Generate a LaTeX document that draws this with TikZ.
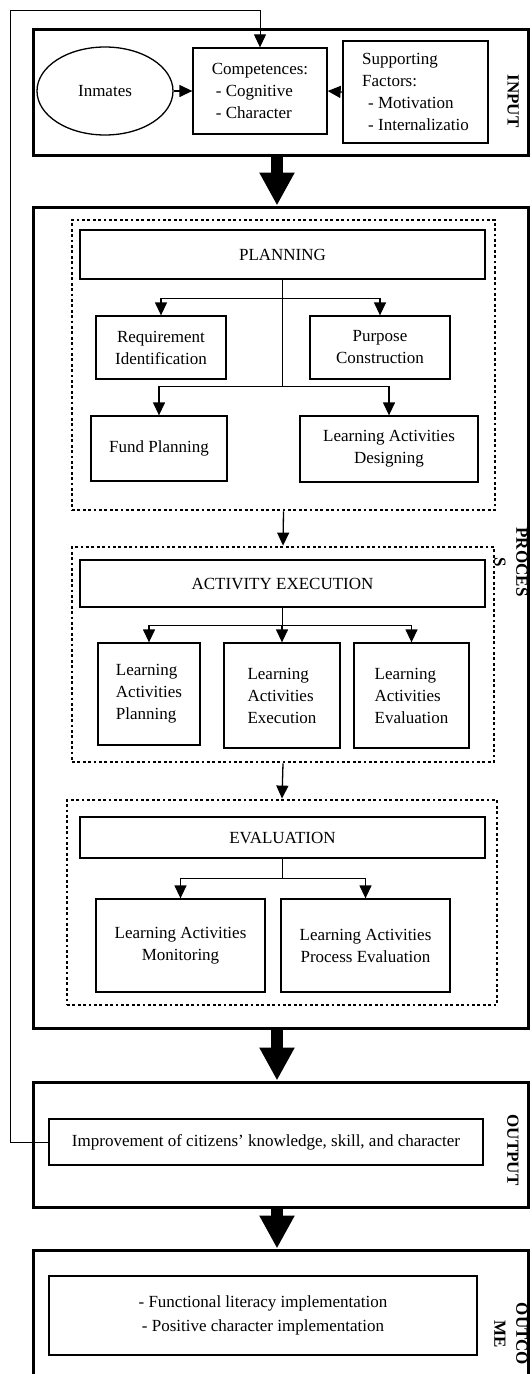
\documentclass[tikz,border=0pt]{standalone}
\usepackage{fontspec}
\setmainfont{Liberation Serif}
\usetikzlibrary{arrows.meta,shapes.geometric}

\tikzset{
	txt/.style={font=\fontsize{17}{22}\selectfont},
	wh/.style 2 args={minimum width=#1pt, minimum height=#2pt},
	frame/.style={draw, line width=3pt, inner sep=0pt},
	box/.style={draw, line width=1.3pt, inner sep=0pt, txt},
	dotbox/.style={draw, line width=2.8pt, dash pattern=on 2.8pt off 2.6pt, inner sep=0pt},
	arr/.style={line width=1.3pt, -{Triangle[width=12pt,length=13pt]}},
	bigarr/.style={line width=12pt, -{Triangle[width=33pt,length=33pt]}},
	lbl/.style={rotate=-90, font=\fontsize{17}{22}\selectfont\bfseries, align=center, inner sep=0pt}
}

\begin{document}
\begin{tikzpicture}[x=1pt, y=-1pt]
		\useasboundingbox (0, 0) rectangle (532, 1374);
		\clip (0, 0) rectangle (532, 1374);

		% outer frames
		\node[frame, wh={495}{126}] (input) at (280.5, 92) {};
		\node[frame, wh={495}{821}] (process) at (280.5, 617.5) {};
		\node[frame, wh={495}{125}] (output) at (280.5, 1144.5) {};
		\node[frame, wh={495}{170}] (outcome) at (280.5, 1335) {};

		\node[lbl] (inlbl) at (513, 101) {INPUT};
		\node[lbl] (proclbl) at (511, 562) {PROCES\\S};
		\node[lbl] (outlbl) at (513, 1150) {OUTPUT};
		\node[lbl] (outclbl) at (511, 1334) {OUTCO\\ME};

		% input
		\node[box, ellipse, wh={136}{88}] (inmates) at (105, 91) {Inmates};
		\node[box, wh={134}{86}, align=left] (comp) at (260, 91)
			{Competences:\\\hspace*{4pt}- Cognitive\\\hspace*{4pt}- Character};
		\node[box, wh={145}{102}, align=left] (support) at (415.5, 92)
			{Supporting\\Factors:\\\hspace*{6pt}- Motivation\\\hspace*{6pt}- Internalizatio};
		\draw[arr] (inmates.east) -- (comp.west);
		\draw[arr] (support.west) -- (comp.east);

		% planning
		\node[dotbox, wh={423}{290}] (planframe) at (283.5, 365) {};
		\node[box, wh={405}{49}] (plan) at (282.5, 254.5) {PLANNING};
		\node[box, wh={130}{63}, align=center] (req) at (161, 347.5) {Requirement\\Identification};
		\node[box, wh={140}{63}, align=center] (purp) at (380, 347.5) {Purpose\\Construction};
		\node[box, wh={136}{65}] (fund) at (159, 448.5) {Fund Planning};
		\node[box, wh={178}{66}, align=center] (design) at (389, 449) {Learning Activities\\Designing};

		\draw[arr] (plan.south) -- ++(0, 19) -| (req.north);
		\draw[arr] (plan.south) -- ++(0, 19) -| (purp.north);
		\draw[arr] (plan.south) -- ++(0, 107) -| (fund.north);
		\draw[arr] (plan.south) -- ++(0, 107) -| (design.north);

		% activity execution
		\node[dotbox, wh={422}{215}] (actframe) at (283, 654.5) {};
		\node[box, wh={405}{47}] (act) at (282.5, 583.5) {ACTIVITY EXECUTION};
		\node[box, wh={102}{102}, align=left] (lap) at (149, 694) {Learning\\Activities\\Planning};
		\node[box, wh={116}{105}, align=left] (lae) at (282, 695.5) {Learning\\Activities\\Execution};
		\node[box, wh={115}{105}, align=left] (lav) at (411.5, 695.5) {Learning\\Activities\\Evaluation};

		\foreach \n in {lap, lae, lav}{
				\draw[arr] (act.south) -- ++(0, 18) -| (\n.north);
			}

		% evaluation
		\node[dotbox, wh={430}{205}] (evalframe) at (282, 902.5) {};
		\node[box, wh={405}{41}] (evalb) at (282.5, 837.5) {EVALUATION};
		\node[box, wh={169}{93}, align=center] (mon) at (180.5, 945.5) {Learning Activities\\Monitoring};
		\node[box, wh={169}{93}, align=center] (pev) at (365.5, 945.5) {Learning Activities\\Process Evaluation};

		\draw[arr] (evalb.south) -- ++(0, 20) -| (mon.north);
		\draw[arr] (evalb.south) -- ++(0, 20) -| (pev.north);

		\draw[arr] (planframe.south) -- (actframe.north);
		\draw[arr] (actframe.south) -- (evalframe.north);

		% output and outcome
		\node[box, wh={434}{46}] (impr) at (266, 1142)
			{Improvement of citizens’ knowledge, skill, and character};
		\node[box, wh={428}{79}, align=center, font=\fontsize{17}{24}\selectfont] (outc) at (263, 1315.5)
			{- Functional literacy implementation\\- Positive character implementation};

		% big arrows between the frames
		\draw[bigarr] ([xshift=-3.5pt]input.south) -- ([xshift=-3.5pt]process.north);
		\draw[bigarr] ([xshift=-3.5pt]process.south) -- ([xshift=-3.5pt]output.north);
		\draw[bigarr] ([xshift=-3.5pt]output.south) -- ([xshift=-3.5pt]outcome.north);

		% feedback
		\coordinate (fb) at (10, 10);
		\draw[arr, line width=1pt] (impr.west) -| (fb) -| (comp.north);
	\end{tikzpicture}
\end{document}
